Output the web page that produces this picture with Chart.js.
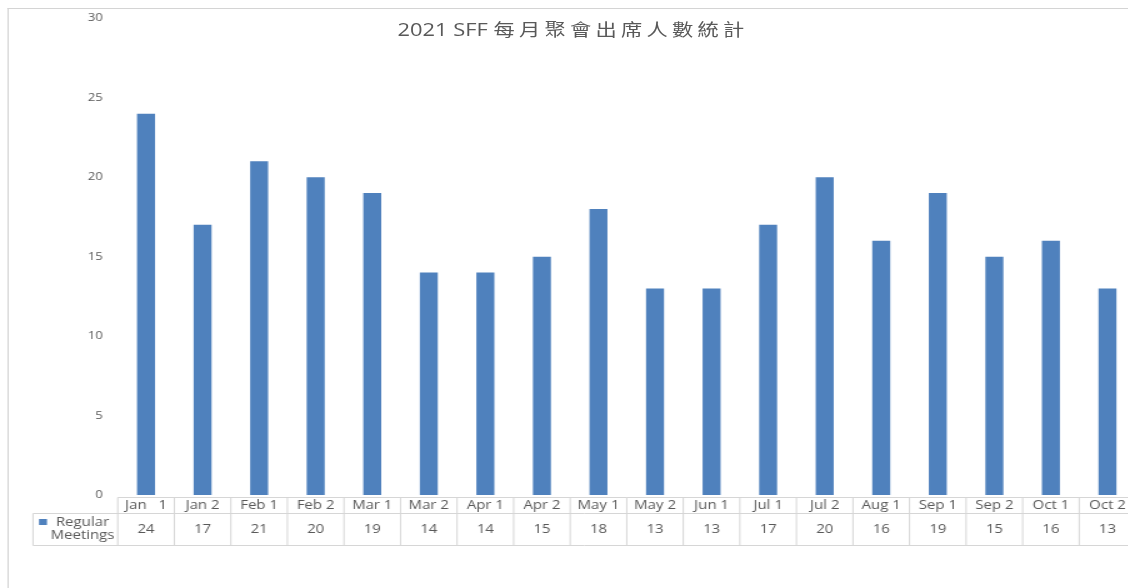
<!DOCTYPE html>
<html>
<head>
<meta charset="utf-8">
<script src="https://cdn.jsdelivr.net/npm/chart.js@4"></script>
<style>
  html, body { margin: 0; padding: 0; background: #fff; overflow: hidden; }
  #wrap {
    position: absolute; left: 0; top: 0; width: 912px; height: 588px;
    transform: scaleX(1.25); transform-origin: 0 0;
  }
  #frame {
    position: absolute; left: 6.4px; top: 8px; right: 0; bottom: 0;
    border-top: 1px solid #d4d4d4; border-left: 1px solid #d4d4d4;
  }
  #title {
    position: absolute; left: 318px; top: 18px; white-space: nowrap;
    font-family: 'Open Sans', 'Noto Sans CJK TC', sans-serif;
    color: #595959; font-size: 17.5px; line-height: 22px;
  }
  #title .cjk { font-family: 'Noto Sans CJK TC', sans-serif; font-size: 17px; letter-spacing: 3.4px; }
  #chart { position: absolute; left: 0; top: 0; width: 912px; height: 588px; }
</style>
</head>
<body>
<div id="wrap">
  <div id="frame"></div>
  <div id="chart"><canvas id="c"></canvas></div>
  <div id="title">2021 SFF <span class="cjk">每月聚會出席人數統計</span></div>
</div>
<script>
const categories = ['Jan   1', 'Jan 2', 'Feb 1', 'Feb 2', 'Mar 1', 'Mar 2', 'Apr 1', 'Apr 2', 'May 1',
  'May 2', 'Jun 1', 'Jul 1', 'Jul 2', 'Aug 1', 'Sep 1', 'Sep 2', 'Oct 1', 'Oct 2'];
const attendance = [24, 17, 21, 20, 19, 14, 14, 15, 18, 13, 13, 17, 20, 16, 19, 15, 16, 13];
const seriesName = 'Regular Meetings';
const yTicks = [0, 5, 10, 15, 20, 25, 30];

const textColor = '#595959';
const lineColor = '#d6d6d6';
const barColor = '#4f81bd';

Chart.defaults.font.family = "'Open Sans', sans-serif";

// data table under the axis, drawn from the x scale
const dataTable = {
  id: 'dataTable',
  afterDraw(chart) {
    const ctx = chart.ctx;
    const x = chart.scales.x;
    const n = categories.length;
    const step = x.getPixelForValue(1) - x.getPixelForValue(0);
    const left = x.getPixelForValue(0) - step / 2;
    const right = x.getPixelForValue(n - 1) + step / 2;
    const legendLeft = 26.4;
    const top = 497.5, mid = 513.5, bottom = 545.5;

    ctx.save();
    ctx.strokeStyle = lineColor;
    ctx.lineWidth = 1;
    ctx.beginPath();
    ctx.moveTo(left, top); ctx.lineTo(right, top);
    ctx.moveTo(legendLeft, mid); ctx.lineTo(right, mid);
    ctx.moveTo(legendLeft, bottom); ctx.lineTo(right, bottom);
    ctx.moveTo(legendLeft, mid); ctx.lineTo(legendLeft, bottom);
    for (let i = 0; i <= n; i++) {
      const px = left + i * step;
      ctx.moveTo(px, top); ctx.lineTo(px, bottom);
    }
    ctx.stroke();

    ctx.fillStyle = textColor;
    ctx.font = "12px 'Open Sans', sans-serif";
    ctx.textAlign = 'center';
    ctx.textBaseline = 'middle';
    attendance.forEach((v, i) => {
      ctx.fillText(String(v), x.getPixelForValue(i), 530);
    });

    // legend key
    ctx.fillStyle = barColor;
    ctx.fillRect(31.2, 519, 6.4, 6);
    ctx.fillStyle = textColor;
    const words = seriesName.split(' ');
    ctx.fillText(words[0], 66, 523);
    ctx.fillText(words[1], 66, 535.5);
    ctx.restore();
  }
};

new Chart(document.getElementById('c'), {
  type: 'bar',
  data: {
    labels: categories,
    datasets: [{
      label: seriesName,
      data: attendance,
      backgroundColor: barColor,
      barPercentage: 0.318,
      categoryPercentage: 1
    }]
  },
  options: {
    responsive: true,
    maintainAspectRatio: false,
    animation: false,
    layout: { padding: { left: 0, right: 3.4, top: 18, bottom: 75 } },
    plugins: {
      legend: { display: false },
      tooltip: { enabled: false }
    },
    scales: {
      x: {
        grid: { display: false, drawTicks: false },
        border: { display: false },
        ticks: { color: textColor, font: { size: 12 }, padding: 3, maxRotation: 0, minRotation: 0, autoSkip: false },
        afterFit: s => { s.height = 18; }
      },
      y: {
        min: yTicks[0],
        max: yTicks[yTicks.length - 1],
        grid: { display: false, drawTicks: false },
        border: { display: false },
        afterBuildTicks: s => { s.ticks = yTicks.map(v => ({ value: v })); },
        ticks: { color: textColor, font: { size: 10.5 }, padding: 12 },
        afterFit: s => { s.width = 94.2; }
      }
    }
  },
  plugins: [dataTable]
});
</script>
</body>
</html>
